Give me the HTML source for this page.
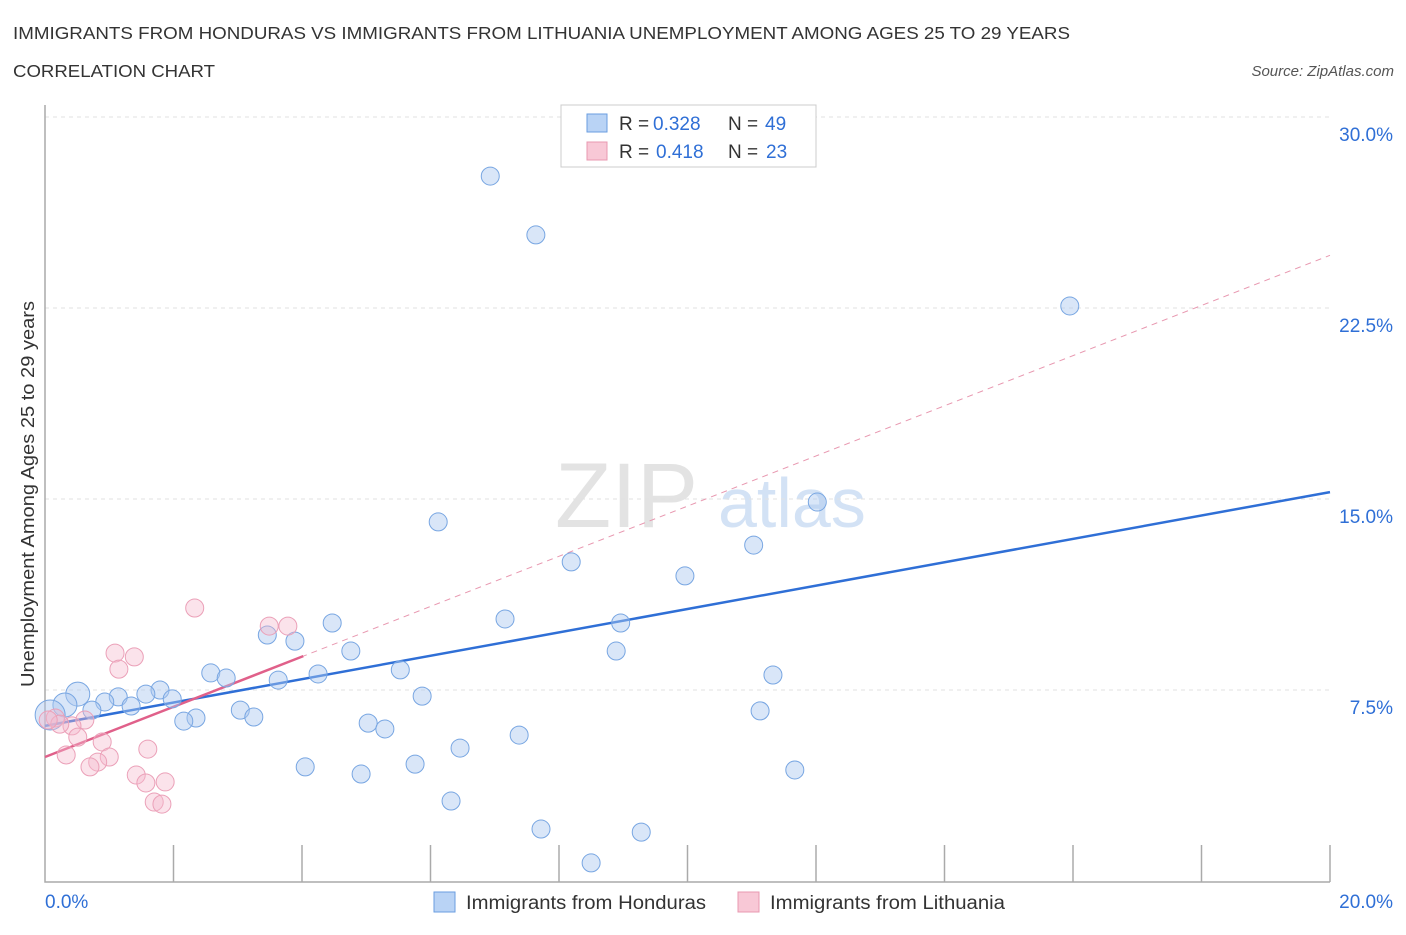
<!DOCTYPE html>
<html><head><meta charset="utf-8"><style>
body{margin:0;background:#fff;font-family:"Liberation Sans",sans-serif;}
svg text{font-family:"Liberation Sans",sans-serif;}
</style></head><body>
<svg id="chart" width="1406" height="930" xmlns="http://www.w3.org/2000/svg">
<text x="13" y="39" font-size="17.5" fill="#333" textLength="1057" lengthAdjust="spacingAndGlyphs">IMMIGRANTS FROM HONDURAS VS IMMIGRANTS FROM LITHUANIA UNEMPLOYMENT AMONG AGES 25 TO 29 YEARS</text>
<text x="13" y="77" font-size="17.5" fill="#333" textLength="202" lengthAdjust="spacingAndGlyphs">CORRELATION CHART</text>
<text x="1394" y="76" font-size="15" fill="#555" font-style="italic" text-anchor="end">Source: ZipAtlas.com</text>
<text x="555" y="527" font-size="92" fill="#ddd" font-family="Liberation Serif" opacity="0.8">ZIP</text>
<text x="718" y="527" font-size="70" fill="#c9dcf3" opacity="0.8">atlas</text>
<g id="grid"></g><g id="axes"></g><g id="lines"></g><g id="points"></g>
<text transform="translate(34,494) rotate(-90)" font-size="18" fill="#333" text-anchor="middle" textLength="386" lengthAdjust="spacingAndGlyphs">Unemployment Among Ages 25 to 29 years</text>
<g>
<rect x="561" y="105" width="255" height="62" fill="#fff" stroke="#ccc"/>
<rect x="587" y="114" width="20" height="18" fill="#b9d3f5" stroke="#6a9ee0"/>
<text x="619" y="130" font-size="19" fill="#333">R =</text><text x="653" y="130" font-size="19" fill="#2f6fd6">0.328</text>
<text x="728" y="130" font-size="19" fill="#333">N =</text><text x="765" y="130" font-size="19" fill="#2f6fd6">49</text>
<rect x="587" y="142" width="20" height="18" fill="#f8c8d6" stroke="#e898b0"/>
<text x="619" y="158" font-size="19" fill="#333">R =</text><text x="656" y="158" font-size="19" fill="#2f6fd6">0.418</text>
<text x="728" y="158" font-size="19" fill="#333">N =</text><text x="766" y="158" font-size="19" fill="#2f6fd6">23</text>
</g>
<g><rect x="434" y="892" width="21" height="20" fill="#b9d3f5" stroke="#6a9ee0"/><text x="466" y="909" font-size="19" fill="#333" textLength="240" lengthAdjust="spacingAndGlyphs">Immigrants from Honduras</text></g>
<g><rect x="738" y="892" width="21" height="20" fill="#f8c8d6" stroke="#e898b0"/><text x="770" y="909" font-size="19" fill="#333" textLength="235" lengthAdjust="spacingAndGlyphs">Immigrants from Lithuania</text></g>
</svg>
<script>
const yTicks=[7.5,15,22.5,30];
const yTickLabels=["7.5%","15.0%","22.5%","30.0%"];
const xTickCount=10;
const hondurasX=[6.93,7.64,15.95,12.02,6.12,11.03,8.19,9.96,7.16,8.96,4.47,3.46,3.89,8.89,4.76,2.58,5.53,11.33,2.82,4.25,3.63,1.79,0.51,1.14,1.57,1.98,0.93,5.87,0.73,1.34,3.04,0.31,2.35,2.16,3.25,11.13,5.03,5.29,7.38,0.08,6.46,4.05,5.76,4.92,11.67,6.32,7.72,9.28,8.50];
const hondurasY=[27.68,25.37,22.58,14.88,14.10,13.19,12.53,11.98,10.29,10.13,10.13,9.66,9.42,9.03,9.03,8.17,8.29,8.09,7.97,8.13,7.89,7.50,7.34,7.23,7.34,7.15,7.03,7.26,6.71,6.87,6.71,6.91,6.40,6.28,6.44,6.68,6.20,5.97,5.73,6.52,5.22,4.48,4.59,4.20,4.36,3.14,2.04,1.92,0.71];
const lithuaniaX=[2.33,3.49,3.78,1.09,1.39,1.15,0.62,0.16,0.42,0.23,0.05,0.51,0.89,1.60,0.33,1.00,0.82,0.70,1.42,1.57,1.87,1.70,1.82];
const lithuaniaY=[10.72,10.01,10.01,8.95,8.80,8.32,6.32,6.40,6.09,6.16,6.32,5.65,5.46,5.18,4.95,4.87,4.67,4.48,4.16,3.85,3.89,3.10,3.02];
const hondurasTrend=[6.09,15.27];
const lithuaniaTrend=[4.87,24.57];
const lithuaniaSolidEnd=4.02;
const NS="http://www.w3.org/2000/svg";
const X0=45,X1=1330,Y0=881,PXPER=191/7.5;
function sx(v){return X0+(X1-X0)*v/20;}
function sy(v){return Y0-v*PXPER;}
function mk(tag,attrs,parent){const e=document.createElementNS(NS,tag);for(const k in attrs)e.setAttribute(k,attrs[k]);parent.appendChild(e);return e;}
const grid=document.getElementById('grid'),axes=document.getElementById('axes'),lines=document.getElementById('lines'),pts=document.getElementById('points');
yTicks.forEach((t,i)=>{
 const l=mk('line',{x1:X0,x2:X1,y1:sy(t),y2:sy(t),stroke:'#e2e2e2','stroke-dasharray':'4,4'},grid);
 
 
 const tx=mk('text',{x:1393,y:sy(t)+24,'font-size':19,fill:'#2f6fd6','text-anchor':'end'},grid);
 tx.textContent=yTickLabels[i];
 
 
});
const ax=mk('path',{d:`M${X0},105 L${X0},882 L${X1},882`,stroke:'#aaa','stroke-width':1.5,fill:'none'},axes);


for(let i=1;i<=xTickCount;i++){
 const x=sx(i*20/xTickCount);
 const t=mk('line',{x1:x,x2:x,y1:845,y2:882,stroke:'#aaa','stroke-width':1.5},axes);
 
 
}
const xl0=mk('text',{x:45,y:908,'font-size':19,fill:'#2f6fd6'},axes);xl0.textContent='0.0%';


const xl1=mk('text',{x:1393,y:908,'font-size':19,fill:'#2f6fd6','text-anchor':'end'},axes);xl1.textContent='20.0%';


function drawPts(xs,ys,fill,stroke,name){
 xs.forEach((x,i)=>{
  const r=(name==='honduras-point'&&x<0.2)?15:((name==='honduras-point'&&x<0.6&&ys[i]>6.5&&ys[i]<7.5)?12:9);
  const c=mk('circle',{cx:sx(x),cy:sy(ys[i]),r:r,fill:fill,stroke:stroke,'stroke-width':1},pts);
  
  
 });
}
drawPts(hondurasX,hondurasY,'rgba(170,200,240,0.45)','#78a6e2','honduras-point');
drawPts(lithuaniaX,lithuaniaY,'rgba(246,185,205,0.4)','#eba0b8','lithuania-point');
const dl=mk('line',{x1:sx(0),y1:sy(lithuaniaTrend[0]),x2:sx(20),y2:sy(lithuaniaTrend[1]),stroke:'#e898b0','stroke-dasharray':'6,5','stroke-width':1},lines);


const bl=mk('line',{x1:sx(0),y1:sy(hondurasTrend[0]),x2:sx(20),y2:sy(hondurasTrend[1]),stroke:'#2f6fd6','stroke-width':2.5},lines);


const sl=(lithuaniaTrend[1]-lithuaniaTrend[0])/20;
const pl=mk('line',{x1:sx(0),y1:sy(lithuaniaTrend[0]),x2:sx(lithuaniaSolidEnd),y2:sy(lithuaniaTrend[0]+sl*lithuaniaSolidEnd),stroke:'#e0608a','stroke-width':2.5},lines);


</script>
</body></html>
